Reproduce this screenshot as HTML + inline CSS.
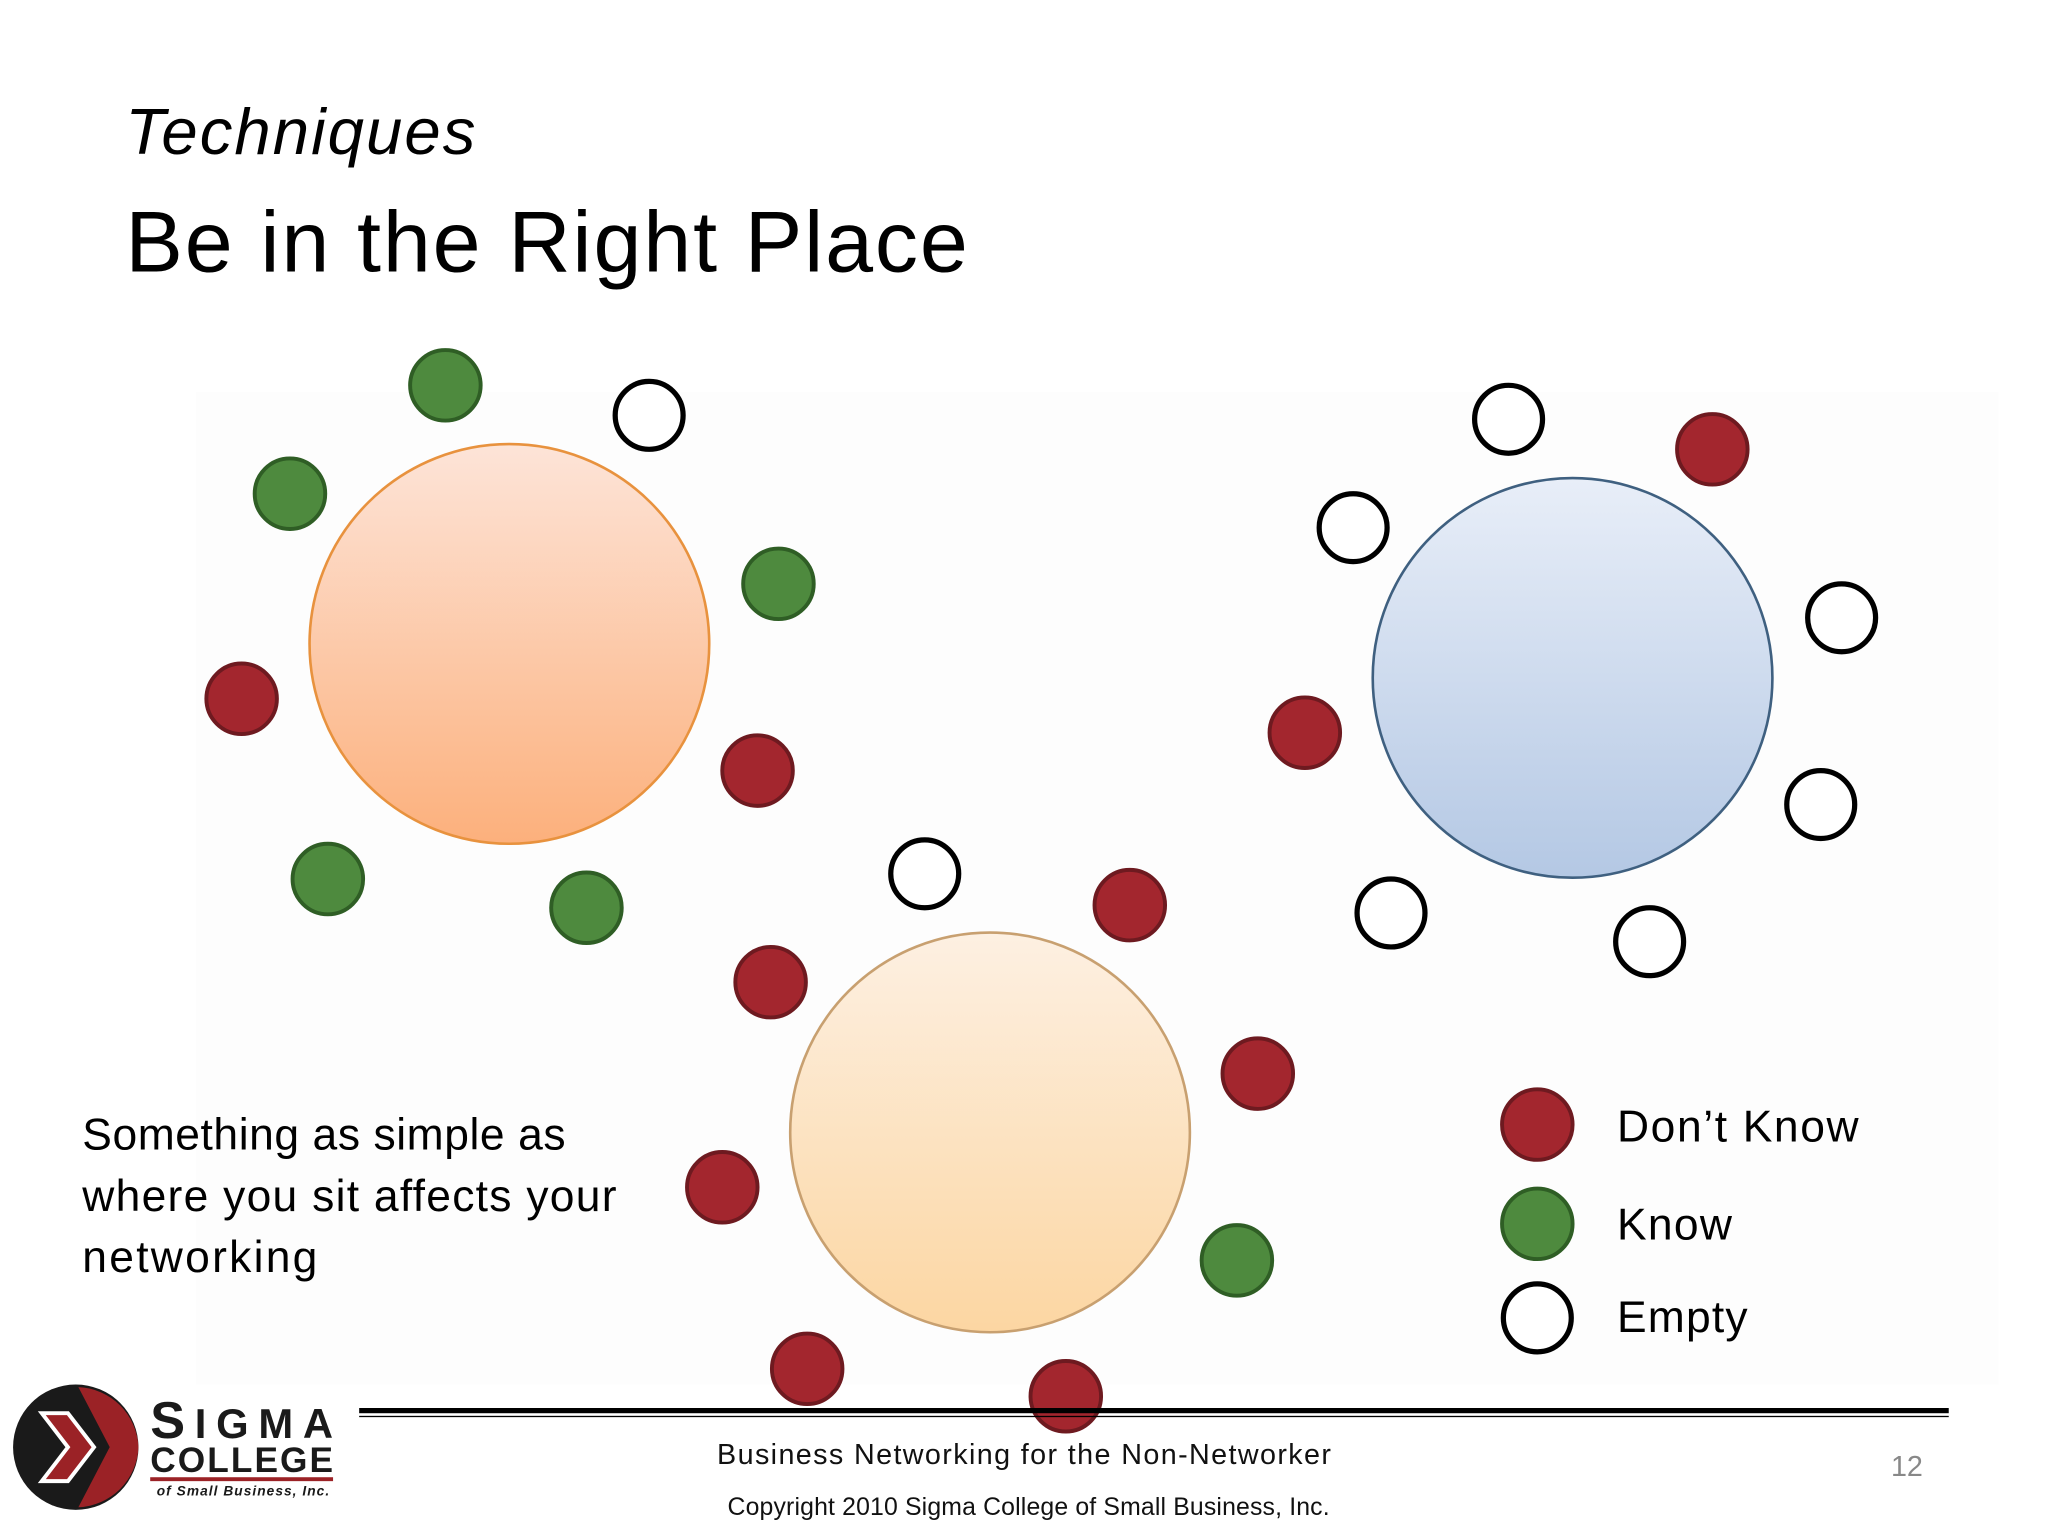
<!DOCTYPE html>
<html><head><meta charset="utf-8">
<style>
html,body{margin:0;padding:0;background:#fff;}
svg{display:block;}
text{font-family:"Liberation Sans",sans-serif;}
</style></head>
<body>
<svg id="s" width="2048" height="1536" viewBox="0 0 1568 1176">
<defs>
<linearGradient id="gOr" x1="0" y1="0" x2="0" y2="1"><stop offset="0" stop-color="#fde4d8"/><stop offset="1" stop-color="#fcb07c"/></linearGradient>
<linearGradient id="gBl" x1="0" y1="0" x2="0" y2="1"><stop offset="0" stop-color="#e8eef8"/><stop offset="1" stop-color="#b4c8e4"/></linearGradient>
<linearGradient id="gYe" x1="0" y1="0" x2="0" y2="1"><stop offset="0" stop-color="#fdf0e2"/><stop offset="1" stop-color="#fcd6a2"/></linearGradient>
</defs>
<rect width="1568" height="1176" fill="#fff"/>
<rect x="150" y="300" width="1380" height="760" fill="#fdfdfd"/>
<text x="96" y="118" font-size="50" font-style="italic" fill="#000" textLength="268">Techniques</text>
<text x="96" y="208" font-size="66" fill="#000" textLength="645">Be in the Right Place</text>

<circle cx="390" cy="493" r="153" fill="url(#gOr)" stroke="#e8923e" stroke-width="2"/>
<circle cx="1204" cy="519" r="153" fill="url(#gBl)" stroke="#3f6080" stroke-width="2"/>
<circle cx="758" cy="867" r="153" fill="url(#gYe)" stroke="#c8a070" stroke-width="2"/>

<g id="dots"></g>

<text font-size="34" fill="#000">
<tspan x="63" y="880" textLength="370">Something as simple as</tspan>
<tspan x="63" y="927" textLength="409">where you sit affects your</tspan>
<tspan x="63" y="974" textLength="180">networking</tspan>
</text>

<g>
<text x="1238" y="874" font-size="34" textLength="185">Don’t Know</text>
<text x="1238" y="949" font-size="34" textLength="88">Know</text>
<text x="1238" y="1020" font-size="34" textLength="100">Empty</text>
</g>

<rect x="275" y="1078" width="1217" height="4" fill="#000"/>
<rect x="275" y="1084" width="1217" height="1" fill="#000"/>

<g>
<circle cx="58" cy="1108" r="48" fill="#1a1a1a"/>
<path d="M60 1062 A48 48 0 0 1 106 1108 A48 48 0 0 1 60 1154 L84 1108 Z" fill="#9b2226"/>
<path d="M32 1082 L52 1082 L72 1108 L52 1134 L32 1134 L52 1108 Z" fill="#9b2226" stroke="#fff" stroke-width="3"/>
<text x="115" y="1101" font-size="40" font-weight="bold" fill="#1a1a1a" textLength="140">S<tspan font-size="32">IGMA</tspan></text>
<text x="115" y="1127" font-size="27" font-weight="bold" fill="#1a1a1a" textLength="140">COLLEGE</text>
<rect x="115" y="1131" width="140" height="3" fill="#9b2226"/>
<text x="120" y="1145" font-size="10.5" font-style="italic" font-weight="bold" fill="#1a1a1a" textLength="132">of Small Business, Inc.</text>
</g>

<text x="549" y="1121" font-size="22" fill="#111" textLength="470">Business Networking for the Non-Networker</text>
<text x="557" y="1160" font-size="19" fill="#111" textLength="461">Copyright 2010 Sigma College of Small Business, Inc.</text>
<text x="1460" y="1130" font-size="22" text-anchor="middle" fill="#888">12</text>
</svg>
<script>
const seatX=[341,222,596,251,449,185,580,497,1155,1036,1410,1394,1065,1263,1311,999,708,865,590,963,553,618,816,947,1177,1177,1177];
const seatY=[295,378,447,673,695,535,590,318,321,404,473,616,699,721,344,561,669,693,752,822,909,1048,1069,965,861,937,1009];
const seatType=["know","know","know","know","know","dont","dont","empty","empty","empty","empty","empty","empty","empty","dont","dont","empty","dont","dont","dont","dont","dont","dont","know","dont","know","empty"];
const fills={know:"#4e8a3e",dont:"#a3262e",empty:"#ffffff"};
const strokes={know:"#2f5e25",dont:"#6e1a20",empty:"#000000"};
const g=document.getElementById('dots');
const NS="http://www.w3.org/2000/svg";
for(let i=0;i<seatX.length;i++){
  const c=document.createElementNS(NS,'circle');
  c.setAttribute('cx',seatX[i]);c.setAttribute('cy',seatY[i]);
  c.setAttribute('r',seatType[i]==='empty'?26:27);
  c.setAttribute('fill',fills[seatType[i]]);
  c.setAttribute('stroke',strokes[seatType[i]]);
  c.setAttribute('stroke-width',seatType[i]==='empty'?4:3);
  
  
  g.appendChild(c);
}
</script>
</body></html>
